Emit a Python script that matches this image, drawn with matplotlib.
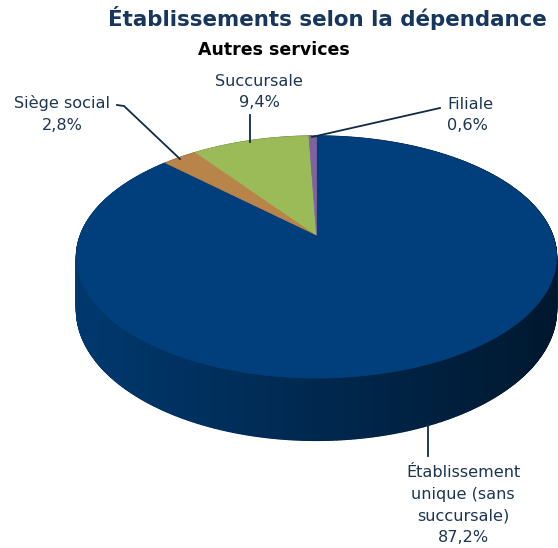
import numpy as np
import matplotlib
matplotlib.use("Agg")
import matplotlib.pyplot as plt
from matplotlib.patches import Polygon
from matplotlib.collections import PolyCollection
from matplotlib.colors import to_rgb

# data (clockwise from 12 o'clock, as in the source chart)
categories = ["Établissement\nunique (sans\nsuccursale)", "Siège social", "Succursale", "Filiale"]
values = [87.2, 2.8, 9.4, 0.6]
labels = ["87,2%", "2,8%", "9,4%", "0,6%"]
colors = ["#003f7b", "#b8844a", "#9bbb59", "#7f63a1"]

TITLE = "Établissements selon la dépendance"
SUBTITLE = "Autres services"
TXT = "#1c3553"

# projection of the tilted disc (pixel coords)
cx, cy = 316.5, 235.0
a, b, k = 236.0, 117.0, 0.182
h = 51.0


def proj(theta, z=0.0):
    X = np.sin(theta)
    Y = -np.cos(theta)
    s = 1.0 / (1.0 - k * Y)
    return cx + a * X * s, cy + (b * Y + z) * s


fig = plt.figure(figsize=(5.58, 5.48), dpi=100)
ax = fig.add_axes([0, 0, 1, 1])
ax.set_xlim(0, 558)
ax.set_ylim(548, 0)
ax.axis("off")

fracs = np.array(values) / sum(values)
bounds = np.concatenate([[0], np.cumsum(fracs)]) * 2 * np.pi

# solid wall underneath so the strips leave no seams
tt = np.linspace(np.pi / 2, 3 * np.pi / 2, 400)
xt, yt = proj(tt)
xb, yb = proj(tt[::-1], h)
ax.add_patch(Polygon(list(zip(xt, yt)) + list(zip(xb, yb)), closed=True,
                     facecolor="#00264c", edgecolor="none"))

# side wall, thin strips shaded left to right
quads, qcols = [], []
for i in range(len(values)):
    th = np.linspace(bounds[i], bounds[i + 1], max(3, int(720 * fracs[i])))
    base = np.array(to_rgb(colors[i]))
    for t0, t1 in zip(th[:-1], th[1:]):
        x0, y0 = proj(t0)
        x1, y1 = proj(t1)
        x2, y2 = proj(t1, h)
        x3, y3 = proj(t0, h)
        quads.append([(x0, y0), (x1, y1), (x2, y2), (x3, y3)])
        f = np.clip((0.5 * (x0 + x1) - 76) / 481, 0, 1)
        qcols.append(base * (0.9 - 0.52 * f))
ax.add_collection(PolyCollection(quads, facecolors=qcols, edgecolors=qcols,
                                 linewidths=1.0))

# top faces
for i in range(len(values)):
    th = np.linspace(bounds[i], bounds[i + 1], max(3, int(720 * fracs[i])))
    xs, ys = proj(th)
    pts = [(cx, cy)] + list(zip(xs, ys))
    ax.add_patch(Polygon(pts, closed=True, facecolor=colors[i],
                         edgecolor=colors[i], linewidth=0.5))

# leader lines
lc = "#0f2a48"
ax.plot([428, 428], [424, 456], color=lc, lw=1.3)
ax.plot([117, 124, 180], [105, 106, 159], color=lc, lw=1.3)
ax.plot([250, 250], [115, 142], color=lc, lw=1.3)
ax.plot([440, 312], [108, 137], color=lc, lw=1.3)

fs = 11.6
ls = 1.55
ax.text(463, 505, categories[0] + "\n" + labels[0], ha="center", va="center",
        fontsize=fs, color=TXT, linespacing=ls)
ax.text(62, 114, categories[1] + "\n" + labels[1], ha="center", va="center",
        fontsize=fs, color=TXT, linespacing=ls)
ax.text(259, 92, categories[2] + "\n" + labels[2], ha="center", va="center",
        fontsize=fs, color=TXT, linespacing=ls)
ax.text(447, 115, categories[3] + "\n" + labels[3], ha="left", va="center",
        fontsize=fs, color=TXT, linespacing=ls)

ax.text(327, 18, TITLE, ha="center", va="center", fontsize=15.4,
        fontweight="bold", color="#17365d")
ax.text(274, 50, SUBTITLE, ha="center", va="center", fontsize=12.5,
        fontweight="bold", color="black")

fig.savefig("out.png", dpi=100)
